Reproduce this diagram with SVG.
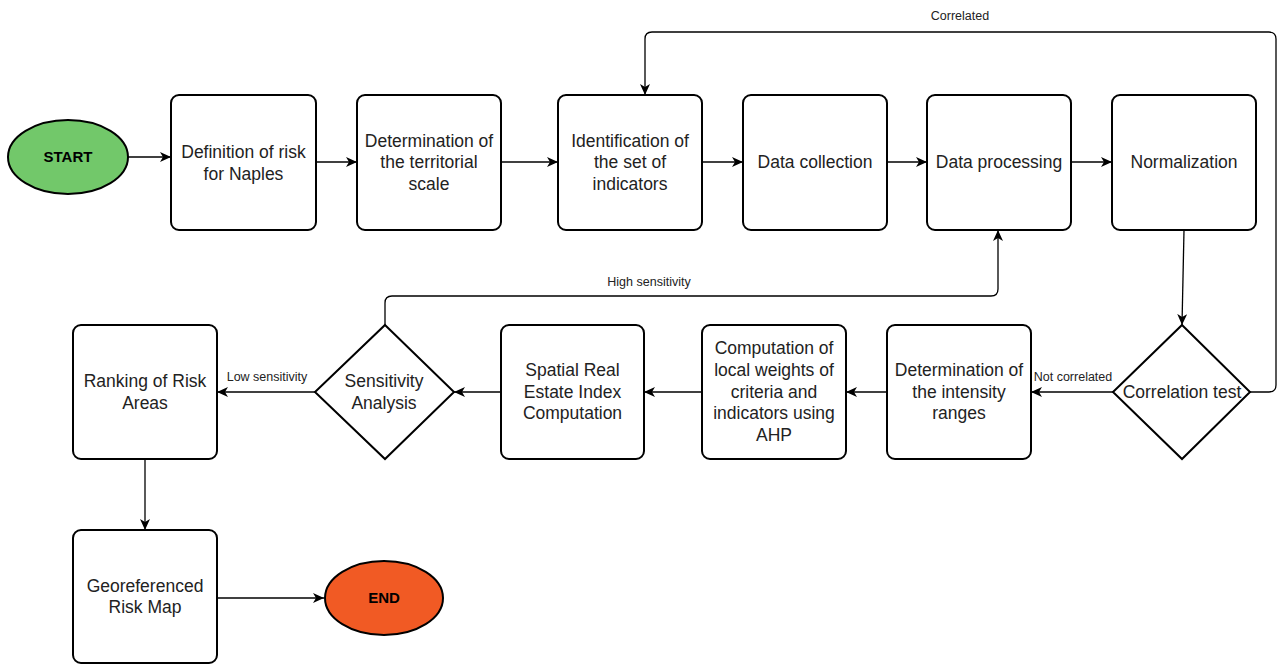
<svg xmlns="http://www.w3.org/2000/svg" width="1285" height="664" viewBox="0 0 1285 664">
<style>
.box{fill:#fff;stroke:#000;stroke-width:2}
.t{font-family:"Liberation Sans",Arial,sans-serif;font-size:17.5px;fill:#222;text-anchor:middle}
.tb{font-family:"Liberation Sans",Arial,sans-serif;font-size:15px;font-weight:bold;fill:#000;text-anchor:middle}
.lbl{font-family:"Liberation Sans",Arial,sans-serif;font-size:12.5px;fill:#222}
.c{fill:none;stroke:#000;stroke-width:1.3;marker-end:url(#ah)}
</style>
<defs>
<marker id="ah" markerUnits="userSpaceOnUse" markerWidth="12" markerHeight="10" refX="11" refY="5" orient="auto">
<path d="M0,0 L11,5 L0,10 L3,5 Z" fill="#000"/>
</marker>
</defs>
<rect width="1285" height="664" fill="#fff"/>
<g id="connectors">
<path class="c" d="M128,157 H171"/>
<path class="c" d="M316,162 H357"/>
<path class="c" d="M501,162 H558"/>
<path class="c" d="M702,162 H743"/>
<path class="c" d="M887,162 H927"/>
<path class="c" d="M1071,162 H1112"/>
<path class="c" d="M1184,230 L1182,325"/>
<path class="c" d="M1250,392 H1269 Q1276,392 1276,385 V39 Q1276,32 1269,32 H652 Q645,32 645,39 V95"/>
<path class="c" d="M1113,392 H1031"/>
<path class="c" d="M887,392 H846"/>
<path class="c" d="M702,392 H644"/>
<path class="c" d="M501,392 H454"/>
<path class="c" d="M315,392 H217"/>
<path class="c" d="M385,325 V303 Q385,296 392,296 H991 Q998,296 998,289 V230"/>
<path class="c" d="M145,459 V530"/>
<path class="c" d="M217,598 H324"/>
<text class="lbl" x="960" y="20" text-anchor="middle">Correlated</text>
<text class="lbl" x="649" y="286" text-anchor="middle">High sensitivity</text>
<text class="lbl" x="267" y="381" text-anchor="middle">Low sensitivity</text>
<text class="lbl" x="1073" y="381" text-anchor="middle">Not correlated</text>
</g>
<g id="start">
<ellipse cx="68" cy="157" rx="60" ry="37" fill="#72c86a" stroke="#000" stroke-width="2"/>
<text class="tb" x="68" y="162">START</text>
</g>
<g id="definition">
<rect class="box" x="171" y="95" width="145" height="135" rx="8"/>
<text class="t" x="243.5" y="158">Definition of risk</text>
<text class="t" x="243.5" y="180">for Naples</text>
</g>
<g id="territorial">
<rect class="box" x="357" y="95" width="144" height="135" rx="8"/>
<text class="t" x="429" y="147">Determination of</text>
<text class="t" x="429" y="168">the territorial</text>
<text class="t" x="429" y="190">scale</text>
</g>
<g id="indicators">
<rect class="box" x="558" y="95" width="144" height="135" rx="8"/>
<text class="t" x="630" y="147">Identification of</text>
<text class="t" x="630" y="168">the set of</text>
<text class="t" x="630" y="190">indicators</text>
</g>
<g id="collection">
<rect class="box" x="743" y="95" width="144" height="135" rx="8"/>
<text class="t" x="815" y="168">Data collection</text>
</g>
<g id="processing">
<rect class="box" x="927" y="95" width="144" height="135" rx="8"/>
<text class="t" x="999" y="168">Data processing</text>
</g>
<g id="normalization">
<rect class="box" x="1112" y="95" width="144" height="135" rx="8"/>
<text class="t" x="1184" y="168">Normalization</text>
</g>
<g id="correlation">
<polygon class="box" points="1182,325 1250,392 1182,459 1113,392"/>
<text class="t" x="1182" y="398">Correlation test</text>
</g>
<g id="intensity">
<rect class="box" x="887" y="325" width="144" height="134" rx="8"/>
<text class="t" x="959" y="376">Determination of</text>
<text class="t" x="959" y="398">the intensity</text>
<text class="t" x="959" y="419">ranges</text>
</g>
<g id="ahp">
<rect class="box" x="702" y="325" width="144" height="134" rx="8"/>
<text class="t" x="774" y="354">Computation of</text>
<text class="t" x="774" y="376">local weights of</text>
<text class="t" x="774" y="398">criteria and</text>
<text class="t" x="774" y="419">indicators using</text>
<text class="t" x="774" y="441">AHP</text>
</g>
<g id="spatial">
<rect class="box" x="501" y="325" width="143" height="134" rx="8"/>
<text class="t" x="572.5" y="376">Spatial Real</text>
<text class="t" x="572.5" y="398">Estate Index</text>
<text class="t" x="572.5" y="419">Computation</text>
</g>
<g id="sensitivity">
<polygon class="box" points="385,325 454,392 385,459 315,392"/>
<text class="t" x="384" y="387">Sensitivity</text>
<text class="t" x="384" y="409">Analysis</text>
</g>
<g id="ranking">
<rect class="box" x="73" y="325" width="144" height="134" rx="8"/>
<text class="t" x="145" y="387">Ranking of Risk</text>
<text class="t" x="145" y="409">Areas</text>
</g>
<g id="georeferenced">
<rect class="box" x="73" y="530" width="144" height="133" rx="8"/>
<text class="t" x="145" y="592">Georeferenced</text>
<text class="t" x="145" y="613">Risk Map</text>
</g>
<g id="end">
<ellipse cx="384" cy="598" rx="59" ry="37" fill="#f15a24" stroke="#000" stroke-width="2"/>
<text class="tb" x="384" y="603">END</text>
</g>
</svg>
